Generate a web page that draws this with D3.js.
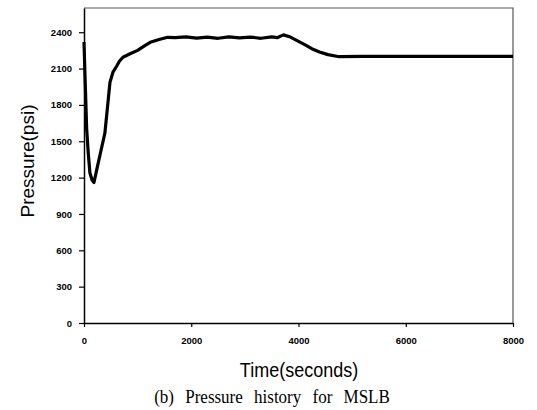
<!DOCTYPE html>
<html>
<head>
<meta charset="utf-8">
<script src="https://cdn.jsdelivr.net/npm/d3@7"></script>
<style>
  body { margin: 0; background: #fff; }
  .tick text { font-family: "Liberation Sans", Arial, sans-serif; font-weight: bold; font-size: 9.5px; }
</style>
</head>
<body>
<div id="chart"></div>
<script>
// Pressure history for MSLB
var time = [0, 25, 50, 80, 110, 150, 186, 250, 320, 390, 440, 484, 540, 608, 660, 726, 850, 1000, 1120, 1250, 1400, 1560,
            1700, 1900, 2100, 2300, 2500, 2700, 2900, 3100, 3300, 3500, 3600, 3720, 3850, 4000, 4150, 4270, 4390, 4550, 4760,
            5200, 6000, 7000, 8000];
var pressure = [2320, 1950, 1600, 1400, 1240, 1180, 1160, 1290, 1430, 1570, 1790, 1986, 2070, 2119, 2160, 2193, 2220, 2250, 2285, 2320, 2340, 2358,
                2355, 2362, 2352, 2360, 2350, 2362, 2354, 2360, 2350, 2362, 2355, 2378, 2360, 2325, 2290, 2259, 2237, 2215, 2198,
                2200, 2200, 2200, 2200];
var yTicks = [0, 300, 600, 900, 1200, 1500, 1800, 2100, 2400];
var xTicks = [0, 2000, 4000, 6000, 8000];

var width = 537, height = 410;
var margin = {left: 84, top: 8, right: 24, bottom: 87};

var svg = d3.select('#chart').append('svg')
    .attr('width', width)
    .attr('height', height);

var x = d3.scaleLinear().domain([0, 8000]).range([margin.left, width - margin.right]);
var y = d3.scaleLinear().domain([0, 2600]).range([height - margin.bottom, margin.top]);

// frame (top and right)
svg.append('path')
    .attr('d', 'M' + x(0) + ',' + y(2600) + 'H' + x(8000) + 'V' + y(0))
    .attr('fill', 'none')
    .attr('stroke', '#555')
    .attr('stroke-width', 1.2);

var yAxis = svg.append('g')
    .attr('transform', 'translate(' + x(0) + ',0)')
    .call(d3.axisLeft(y).tickValues(yTicks).tickFormat(d3.format('d')).tickSize(5).tickPadding(7).tickSizeOuter(0));

var xAxis = svg.append('g')
    .attr('transform', 'translate(0,' + y(0) + ')')
    .call(d3.axisBottom(x).tickValues(xTicks).tickFormat(d3.format('d')).tickSize(4).tickPadding(10).tickSizeOuter(0));

svg.selectAll('.domain').attr('stroke', '#000').attr('stroke-width', 1.5);
svg.selectAll('.tick line').attr('stroke', '#000').attr('stroke-width', 1.2);
svg.selectAll('.tick text').attr('fill', '#000');

var line = d3.line()
    .x(function(d, i) { return x(time[i]); })
    .y(function(d) { return y(d); })
    .curve(d3.curveLinear);

svg.append('path')
    .datum(pressure)
    .attr('d', line)
    .attr('fill', 'none')
    .attr('stroke', '#000')
    .attr('stroke-width', 3.2)
    .attr('stroke-linejoin', 'round');

// axis titles
svg.append('text')
    .attr('transform', 'translate(34,161) rotate(-90)')
    .attr('text-anchor', 'middle')
    .style('font-family', '"Liberation Sans", Arial, sans-serif')
    .style('font-size', '19px')
    .text('Pressure(psi)');

svg.append('text')
    .attr('transform', 'translate(299,377) scale(1,1.12)')
    .attr('text-anchor', 'middle')
    .style('font-family', '"Liberation Sans", Arial, sans-serif')
    .style('font-size', '18px')
    .text('Time(seconds)');

svg.append('text')
    .attr('transform', 'translate(272,403) scale(1,1.1)')
    .attr('text-anchor', 'middle')
    .style('font-family', '"Liberation Serif", "Times New Roman", serif')
    .style('font-size', '17px')
    .style('word-spacing', '7px')
    .text('(b) Pressure history for MSLB');
</script>
</body>
</html>
